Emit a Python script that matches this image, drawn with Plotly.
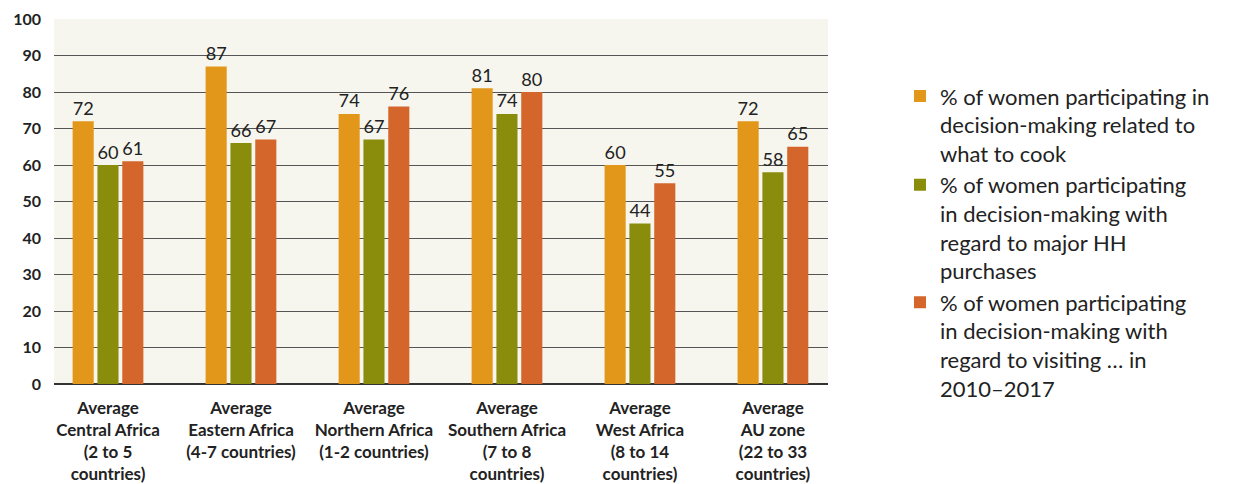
import plotly.graph_objects as go

categories = [
    "<b>Average<br>Central Africa<br>(2 to 5<br>countries)</b>",
    "<b>Average<br>Eastern Africa<br>(4-7 countries)</b>",
    "<b>Average<br>Northern Africa<br>(1-2 countries)</b>",
    "<b>Average<br>Southern Africa<br>(7 to 8<br>countries)</b>",
    "<b>Average<br>West Africa<br>(8 to 14<br>countries)</b>",
    "<b>Average<br>AU zone<br>(22 to 33<br>countries)</b>",
]
cook = [72, 87, 74, 81, 60, 72]
purchases = [60, 66, 67, 74, 44, 58]
visiting = [61, 67, 76, 80, 55, 65]

series_names = [
    "% of women participating in<br>decision-making related to<br>what to cook",
    "% of women participating<br>in decision-making with<br>regard to major HH<br>purchases",
    "% of women participating<br>in decision-making with<br>regard to visiting … in<br>2010–2017",
]
colors = ["#E2971B", "#8A8D0C", "#D4662B"]

FONT = "Lato"
fig = go.Figure()
xs = list(range(len(categories)))
for name, vals, col in zip(series_names, [cook, purchases, visiting], colors):
    fig.add_trace(go.Bar(
        x=xs, y=vals, name=name, marker_color=col, marker_line_width=0,
        text=[str(v) for v in vals], textposition="outside",
        textfont=dict(size=21, color="#222222", family=FONT),
        cliponaxis=False,
    ))

fig.update_layout(
    width=1237, height=484,
    margin=dict(l=46, r=417, t=11, b=108, autoexpand=False),
    paper_bgcolor="white", plot_bgcolor="#F7F6EE",
    barmode="group", bargap=0.44, bargroupgap=0.15,
    font=dict(family=FONT, color="#222222"),
    showlegend=True,
    legend=dict(x=1.093, y=0.846, xanchor="left", yanchor="top", valign="top",
                font=dict(size=22, family=FONT, color="#222222"),
                tracegroupgap=4, bgcolor="rgba(0,0,0,0)"),
)
fig.update_xaxes(
    tickmode="array", tickvals=xs, ticktext=categories,
    range=[-0.406, 5.414], showgrid=False, zeroline=False,
    tickfont=dict(size=17, family=FONT, color="#222222"),
    showline=False, ticks="", automargin=False, ticklabelstandoff=12,
)
fig.update_yaxes(
    range=[0, 100], dtick=10, showgrid=True, gridcolor="#555555", gridwidth=1,
    zeroline=True, zerolinecolor="#333333", zerolinewidth=1.5,
    tickfont=dict(size=16, family=FONT, color="#222222"),
    tickformat="d", ticklabelstandoff=12, automargin=False,
    showline=False, ticks="",
    tickprefix="<b>", ticksuffix="</b>",
)

fig.write_html("out.html")
